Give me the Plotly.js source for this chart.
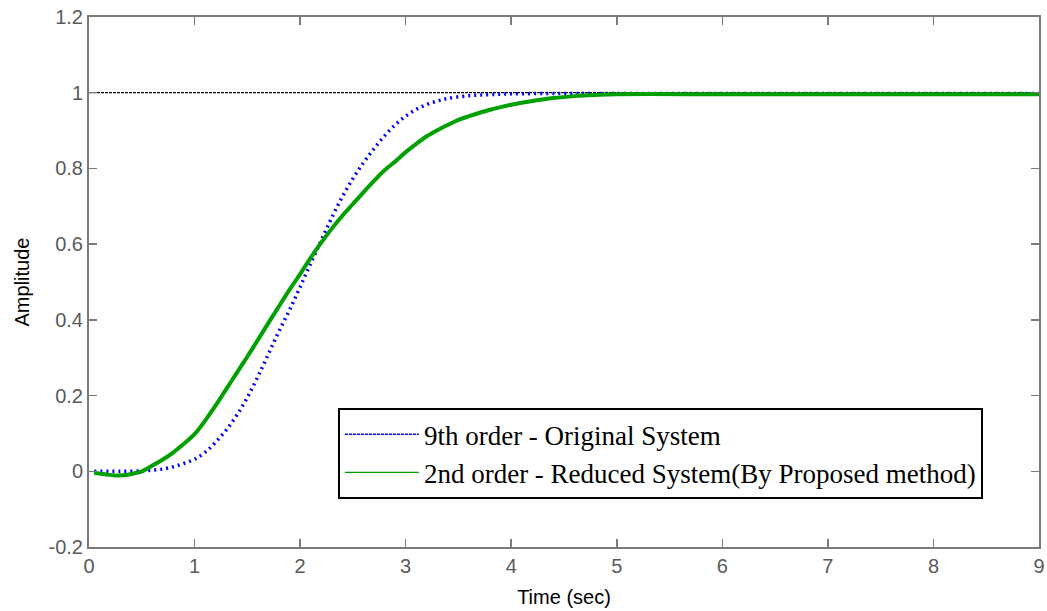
<!DOCTYPE html>
<html>
<head>
<meta charset="utf-8">
<script src="https://cdn.plot.ly/plotly-3.0.1.min.js"></script>
<style>
  html, body { margin: 0; padding: 0; background: #fff; }
  #chart { width: 1047px; height: 611px; }
</style>
</head>
<body>
<div id="chart"></div>
<script>
// Step response of the 9th-order original system (time in seconds)
const origTime = [0.05, 0.3, 0.5, 0.6, 0.7, 0.8, 0.9, 1.0, 1.1, 1.2, 1.3, 1.4, 1.5,
  1.6, 1.7, 1.8, 1.9, 2.0, 2.1, 2.2, 2.3, 2.4, 2.5, 2.6, 2.7, 2.8, 2.9, 3.0,
  3.1, 3.2, 3.3, 3.4, 3.6, 3.8, 4.0, 4.5, 5.0, 6.0, 7.0, 8.0, 9.0];
const origAmp = [0.000, 0.000, 0.001, 0.003, 0.006, 0.012, 0.021, 0.032, 0.050, 0.077, 0.109, 0.148, 0.195,
  0.250, 0.310, 0.370, 0.426, 0.487, 0.549, 0.610, 0.670, 0.725, 0.773, 0.815, 0.852, 0.886, 0.915, 0.938,
  0.956, 0.969, 0.978, 0.985, 0.992, 0.995, 0.997, 0.998, 0.998, 0.998, 0.998, 0.998, 0.998];

// Step response of the 2nd-order reduced model
const redTime = [0.05, 0.15, 0.25, 0.35, 0.45, 0.5, 0.6, 0.7, 0.8, 0.9, 1.0, 1.1, 1.2, 1.3, 1.4, 1.5,
  1.6, 1.7, 1.8, 1.9, 2.0, 2.1, 2.2, 2.3, 2.4, 2.5, 2.6, 2.7, 2.8, 2.9, 3.0, 3.1, 3.2, 3.3, 3.4,
  3.5, 3.6, 3.7, 3.8, 3.9, 4.0, 4.2, 4.4, 4.6, 4.8, 5.0, 6.0, 7.0, 8.0, 9.0];
const redAmp = [-0.004, -0.008, -0.011, -0.010, -0.004, 0.000, 0.015, 0.031, 0.050, 0.073, 0.098, 0.134, 0.174, 0.217, 0.260, 0.303,
  0.347, 0.392, 0.436, 0.480, 0.521, 0.564, 0.604, 0.641, 0.675, 0.706, 0.737, 0.767, 0.795, 0.818, 0.843, 0.865, 0.885, 0.901, 0.915,
  0.928, 0.938, 0.947, 0.955, 0.962, 0.968, 0.978, 0.986, 0.991, 0.994, 0.996, 0.996, 0.996, 0.996, 0.996];

// Unit-step reference level
const stepTime = [0, 9];
const stepAmp = [1, 1];

const xTicks = [0, 1, 2, 3, 4, 5, 6, 7, 8, 9];
const xTickText = ['0', '1', '2', '3', '4', '5', '6', '7', '8', '9'];
const yTicks = [-0.2, 0, 0.2, 0.4, 0.6, 0.8, 1, 1.2];
const yTickText = ['-0.2', '0', '0.2', '0.4', '0.6', '0.8', '1', '1.2'];

const seriesNames = ['9th order - Original System', '2nd order - Reduced System(By Proposed method)'];
const blue = '#0000ff';
const green = '#00a000';
const axisGrey = '#7a7a7a';

const traces = [
  { x: stepTime, y: stepAmp, mode: 'lines', showlegend: false, hoverinfo: 'skip',
    line: { color: '#000', width: 1.3, dash: '3px,1px' } },
  { x: origTime, y: origAmp, mode: 'lines', showlegend: false,
    line: { color: blue, width: 3.5, dash: '2px,4px', shape: 'spline' } },
  { x: redTime, y: redAmp, mode: 'lines', showlegend: false,
    line: { color: green, width: 4, shape: 'spline' } },
  // legend keys drawn with thin strokes
  { x: [null], y: [null], mode: 'lines', name: seriesNames[0],
    line: { color: blue, width: 1.5, dash: '3px,1px' } },
  { x: [null], y: [null], mode: 'lines', name: seriesNames[1],
    line: { color: green, width: 1.3 } }
];

const axisCommon = {
  showgrid: false, zeroline: false,
  showline: true, linecolor: axisGrey, linewidth: 2, mirror: 'ticks',
  ticks: 'inside', ticklen: 8, tickwidth: 1.5, tickcolor: axisGrey,
  tickfont: { family: 'Liberation Sans, Arial, sans-serif', size: 20, color: '#5a5a5a' }
};

const layout = {
  width: 1047, height: 611,
  margin: { l: 89, r: 8, t: 17, b: 64 },
  paper_bgcolor: '#fff', plot_bgcolor: '#fff',
  xaxis: Object.assign({}, axisCommon, {
    range: [0, 9], tickvals: xTicks, ticktext: xTickText,
    title: { text: 'Time (sec)', standoff: 14,
      font: { family: 'Liberation Sans, Arial, sans-serif', size: 20, color: '#000' } }
  }),
  yaxis: Object.assign({}, axisCommon, {
    range: [-0.2, 1.2], tickvals: yTicks, ticktext: yTickText,
    title: { text: 'Amplitude', standoff: 14,
      font: { family: 'Liberation Sans, Arial, sans-serif', size: 20, color: '#000' } }
  }),
  showlegend: true,
  legend: {
    x: 0.262, y: 0.262, xanchor: 'left', yanchor: 'top',
    bgcolor: '#fff', bordercolor: '#000', borderwidth: 2,
    itemwidth: 74, tracegroupgap: 0,
    font: { family: 'Liberation Serif, Times New Roman, serif', size: 27, color: '#000' }
  }
};

Plotly.newPlot('chart', traces, layout, { displayModeBar: false, staticPlot: true });
</script>
</body>
</html>
